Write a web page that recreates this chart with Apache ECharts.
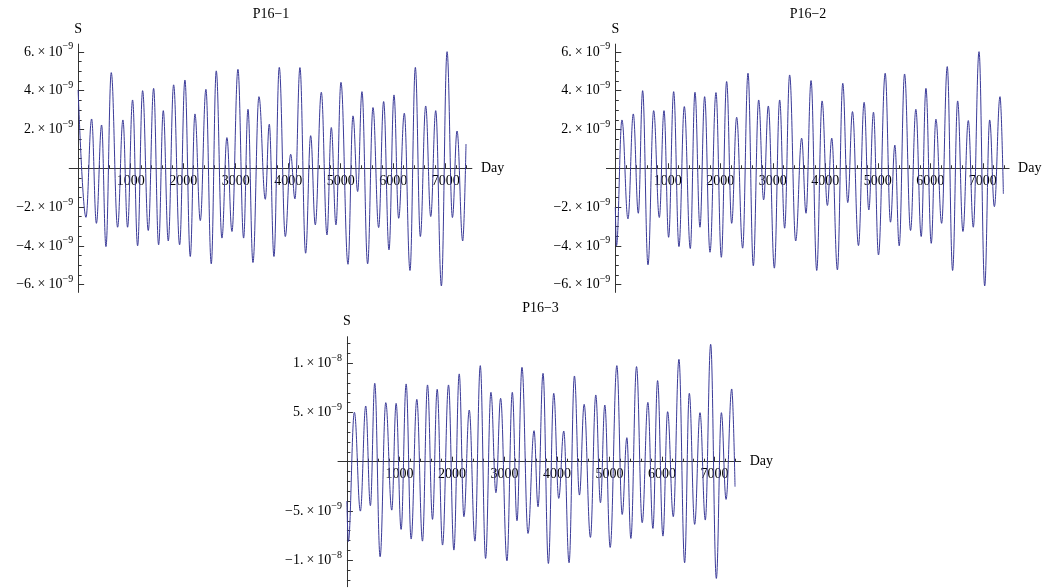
<!DOCTYPE html>
<html>
<head>
<meta charset="utf-8">
<script src="https://cdn.jsdelivr.net/npm/echarts@6/dist/echarts.min.js"></script>
<style>
html,body{margin:0;padding:0;background:#fff;}
#c{width:1047px;height:588px;}
</style>
</head>
<body>
<div id="c"></div>
<script>
// Values of S are stored in units of 1e-9
const UNIT = 1e-9;
const titles = ['P16\u22121', 'P16\u22122', 'P16\u22123'];
const xName = 'Day';
const yName = 'S';
const xTickLabels = [1000, 2000, 3000, 4000, 5000, 6000, 7000];
const yTicks12 = [-6, -4, -2, 2, 4, 6];
const yTicks3 = [-10, -5, 5, 10];

// P16-1 extrema (day, S/1e-9)
const days1 = [0,149,257,348,447,530,631,752,853,942,1037,1133,1228,1336,1438,1533,1622,1717,1819,1933,2034,2136,2225,2327,2434,2536,2631,2739,2834,2930,3044,3152,3235,3330,3444,3565,3641,3730,3831,3946,4048,4130,4225,4333,4429,4517,4632,4740,4822,4911,5006,5140,5235,5324,5406,5514,5616,5724,5819,5921,6016,6105,6213,6321,6423,6518,6620,6716,6811,6919,7027,7129,7217,7325,7388];
const s1 = [4.04,-2.53,2.54,-2.84,2.23,-4.04,4.93,-3.04,2.49,-3.04,3.52,-4.0,4.0,-3.21,4.12,-3.95,2.97,-3.75,4.3,-3.95,4.55,-4.55,2.8,-2.7,4.07,-4.93,5.02,-3.6,1.58,-3.26,5.1,-3.6,3.04,-4.86,3.69,-1.6,2.27,-4.55,5.2,-3.52,0.72,-1.58,5.19,-4.38,1.68,-2.92,3.92,-3.44,2.1,-2.92,4.43,-4.95,2.7,-1.2,3.95,-4.93,3.13,-3.06,3.44,-4.21,3.78,-2.58,2.84,-5.27,5.2,-3.52,3.21,-2.49,2.97,-6.07,6.01,-2.54,1.92,-3.75,1.25];

// P16-2 extrema
const days2 = [0,22,126,241,342,438,520,622,730,838,927,1015,1111,1212,1314,1428,1517,1612,1701,1803,1917,2019,2120,2216,2311,2425,2527,2628,2730,2825,2914,3029,3130,3225,3320,3435,3549,3632,3728,3836,3938,4039,4122,4230,4332,4427,4517,4631,4739,4828,4917,5012,5140,5241,5324,5407,5509,5623,5724,5826,5916,6017,6106,6215,6322,6424,6520,6621,6723,6818,6927,7035,7130,7219,7327,7391];
const s2 = [-2.0,-4.0,2.49,-2.61,2.8,-2.32,4.0,-4.98,2.97,-2.54,2.97,-3.56,3.95,-4.04,3.18,-4.14,3.92,-3.04,3.69,-4.33,3.9,-4.59,4.47,-2.84,2.63,-4.12,4.9,-5.03,3.52,-1.63,3.21,-5.15,3.52,-3.09,4.81,-3.75,1.55,-2.32,4.52,-5.27,3.47,-1.92,1.55,-5.24,4.38,-1.77,2.92,-3.99,3.4,-2.15,2.89,-4.47,4.9,-2.78,1.19,-4.0,4.86,-3.21,3.04,-3.52,4.12,-3.87,2.53,-2.84,5.24,-5.27,3.47,-3.26,2.46,-3.04,6.01,-6.07,2.49,-1.98,3.69,-1.32];

// P16-3 extrema
const days3 = [0,27,142,256,358,447,530,632,740,854,937,1032,1128,1223,1331,1439,1535,1630,1719,1821,1935,2037,2139,2228,2330,2438,2540,2641,2743,2838,2927,3048,3150,3239,3334,3449,3564,3640,3735,3837,3939,4034,4130,4231,4333,4429,4518,4638,4740,4829,4912,5014,5141,5243,5332,5408,5516,5624,5732,5828,5917,6019,6108,6216,6324,6432,6521,6623,6725,6826,6928,7036,7132,7221,7329,7392];
const s3 = [-4.0,-8.1,5.02,-5.02,5.66,-4.47,7.97,-9.66,6.0,-4.92,5.93,-6.88,7.9,-7.86,6.34,-8.07,7.8,-5.86,7.36,-8.47,7.8,-8.98,8.92,-5.59,5.25,-8.07,9.76,-9.83,7.05,-3.15,6.44,-10.07,7.05,-6.0,9.59,-7.29,3.15,-4.58,8.98,-10.34,6.95,-3.73,3.12,-10.27,8.71,-3.39,5.83,-7.69,6.78,-4.17,5.76,-8.71,9.76,-5.36,2.44,-7.8,9.66,-6.2,6.03,-6.78,8.24,-7.56,5.08,-5.59,10.4,-10.27,6.95,-6.37,4.98,-5.93,11.93,-11.86,4.98,-3.83,7.39,-2.54];

const SERIF = '"Liberation Serif","DejaVu Serif",serif';
const AXIS_COLOR = '#333';
const LINE_COLOR = '#3a3a98';

function pairs(d, s){ return d.map((x,i)=>[x, s[i]]); }

function sciLabel(v){
  const val = v * UNIT;
  const e = Math.floor(Math.log10(Math.abs(val)) + 1e-6);
  const m = Math.round(val / Math.pow(10, e));
  const ms = (m < 0 ? '\u2212' : '') + Math.abs(m) + '.';
  return '{m|' + ms + '}{x|\u00d7}{m|10}{e|\u2212' + (-e) + '}';
}

const rich = {
  m: {fontFamily: SERIF, fontSize: 14, color: '#000', lineHeight: 20},
  x: {fontFamily: SERIF, fontSize: 14, color: '#000', lineHeight: 20, padding: [0,3,0,3]},
  e: {fontFamily: SERIF, fontSize: 10, color: '#000', lineHeight: 10, verticalAlign: 'top'}
};

const minorX = [];
for (let d = 200; d <= 7400; d += 200) if (d % 1000 !== 0) minorX.push(d);
function minorY(step, lim, major){
  const out = [];
  for (let v = -lim; v <= lim + 1e-9; v += step) {
    const r = Math.round(v * 100) / 100;
    if (r !== 0 && Math.abs(r % major) > 1e-9) out.push(r);
  }
  return out;
}
const minorY12 = minorY(0.5, 6, 2);
const minorY3 = minorY(1, 12, 5);

const X_MIN = -170, X_MAX = 7500;
const grids = [
  {left: 69.2, top: 44.1, width: 402.7, height: 248.3},
  {left: 606.4, top: 44.1, width: 402.7, height: 248.3},
  {left: 338.0, top: 336.7, width: 402.7, height: 250}
];
const yLims = [6.4, 6.4, 12.7];
const yMajors = [yTicks12, yTicks12, yTicks3];
const yMinors = [minorY12, minorY12, minorY3];
const dataSets = [pairs(days1, s1), pairs(days2, s2), pairs(days3, s3)];
const titlePos = [[271, 14], [808, 14], [540.5, 308]];

const xAxes = [], yAxes = [], series = [], graphics = [];
grids.forEach((g, i) => {
  // the x axis sits at S = 0 (middle of a symmetric range), the y axis at Day = 0
  const xOff = -g.height / 2;
  const yOff = -(0 - X_MIN) / (X_MAX - X_MIN) * g.width;
  xAxes.push({
    type: 'value', gridIndex: i, min: X_MIN, max: X_MAX, position: 'bottom', offset: xOff,
    name: xName, nameLocation: 'end', nameGap: 9,
    nameTextStyle: {fontFamily: SERIF, fontSize: 14, color: '#000', verticalAlign: 'middle'},
    axisLine: {show: true, onZero: false, lineStyle: {color: AXIS_COLOR, width: 1}},
    axisTick: {show: true, inside: true, length: 5, customValues: xTickLabels, lineStyle: {color: AXIS_COLOR}},
    axisLabel: {show: true, customValues: xTickLabels, margin: 6, fontFamily: SERIF, fontSize: 14, color: '#000',
                formatter: v => String(v)},
    splitLine: {show: false}
  });
  xAxes.push({
    type: 'value', gridIndex: i, min: X_MIN, max: X_MAX, position: 'bottom', offset: xOff,
    axisLine: {show: false, onZero: false},
    axisTick: {show: true, inside: true, length: 3, customValues: minorX, lineStyle: {color: AXIS_COLOR}},
    axisLabel: {show: false}, splitLine: {show: false}
  });
  yAxes.push({
    type: 'value', gridIndex: i, min: -yLims[i], max: yLims[i], position: 'left', offset: yOff,
    name: yName, nameLocation: 'end', nameGap: 8,
    nameTextStyle: {fontFamily: SERIF, fontSize: 14, color: '#000'},
    axisLine: {show: true, onZero: false, lineStyle: {color: AXIS_COLOR, width: 1}},
    axisTick: {show: true, inside: true, length: 6, customValues: yMajors[i], lineStyle: {color: AXIS_COLOR}},
    axisLabel: {show: true, customValues: yMajors[i], margin: 5, formatter: sciLabel, rich: rich},
    splitLine: {show: false}
  });
  yAxes.push({
    type: 'value', gridIndex: i, min: -yLims[i], max: yLims[i], position: 'left', offset: yOff,
    axisLine: {show: false, onZero: false},
    axisTick: {show: true, inside: true, length: 3.5, customValues: yMinors[i], lineStyle: {color: AXIS_COLOR}},
    axisLabel: {show: false}, splitLine: {show: false}
  });
  series.push({
    type: 'line', xAxisIndex: 2 * i, yAxisIndex: 2 * i,
    data: dataSets[i], smooth: 0.4, smoothMonotone: 'x',
    showSymbol: false, symbol: 'none',
    lineStyle: {color: LINE_COLOR, width: 1}, z: 3
  });
  graphics.push({
    type: 'text', x: titlePos[i][0], y: titlePos[i][1],
    style: {text: titles[i], fontFamily: SERIF, fontSize: 14, fill: '#000', textAlign: 'center', textVerticalAlign: 'middle'}
  });
});

const chart = echarts.init(document.getElementById('c'), null, {renderer: 'canvas'});
chart.setOption({
  animation: false,
  backgroundColor: '#fff',
  grid: grids,
  xAxis: xAxes,
  yAxis: yAxes,
  series: series,
  graphic: graphics
});
</script>
</body>
</html>
